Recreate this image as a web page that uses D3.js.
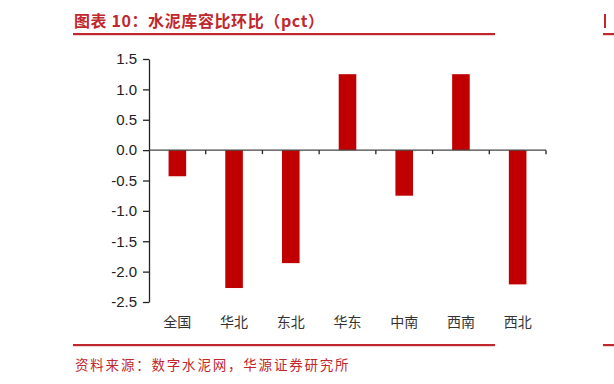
<!DOCTYPE html>
<html>
<head>
<meta charset="utf-8">
<script src="https://cdn.jsdelivr.net/npm/d3@7"></script>
<style>
body { margin: 0; background: #fff; }
svg { display: block; }
</style>
</head>
<body>
<div id="chart"></div>
<script>
var categories = ["全国", "华北", "东北", "华东", "中南", "西南", "西北"];
var values = [-0.43, -2.27, -1.86, 1.25, -0.75, 1.25, -2.21];
var yTicks = [1.5, 1.0, 0.5, 0.0, -0.5, -1.0, -1.5, -2.0, -2.5];

function drawChart() {
    var w = 614, h = 384;
    var red = "#c0282d";

    var svg = d3.select("#chart").append("svg")
        .attr("width", w)
        .attr("height", h);

    // title and frame lines
    svg.append("text")
        .attr("x", 74).attr("y", 27)
        .attr("fill", red)
        .attr("font-family", "Noto Sans CJK SC")
        .attr("font-weight", "bold")
        .attr("font-size", 16)
        .attr("letter-spacing", 0.6)
        .text("图表 10：水泥库容比环比（pct）");

    svg.append("rect").attr("x", 73).attr("y", 33).attr("width", 422).attr("height", 2.2).attr("fill", red);
    svg.append("rect").attr("x", 73).attr("y", 344).attr("width", 422).attr("height", 2.2).attr("fill", red);
    // edge of the neighbouring panel
    svg.append("rect").attr("x", 603).attr("y", 33).attr("width", 11).attr("height", 2.2).attr("fill", red);
    svg.append("rect").attr("x", 603).attr("y", 344).attr("width", 11).attr("height", 2.2).attr("fill", red);
    svg.append("rect").attr("x", 604).attr("y", 14).attr("width", 2).attr("height", 14).attr("fill", red);

    svg.append("text")
        .attr("x", 75).attr("y", 370)
        .attr("fill", red)
        .attr("font-family", "Noto Sans CJK SC")
        .attr("font-size", 13.5)
        .attr("letter-spacing", 1.8)
        .text("资料来源：数字水泥网，华源证券研究所");

    // plot
    var pLeft = 149, pRight = 546, pTop = 59, pBottom = 302;

    var x = d3.scaleBand().domain(categories).range([pLeft, pRight]).paddingInner(0).paddingOuter(0);
    var y = d3.scaleLinear().domain([1.5, -2.5]).range([pTop, pBottom]);

    svg.selectAll("rect.bar")
        .data(values)
        .enter()
        .append("rect")
        .attr("class", "bar")
        .attr("x", function (d, i) { return x(categories[i]) + x.bandwidth() * 0.345; })
        .attr("width", x.bandwidth() * 0.31)
        .attr("y", function (d) { return y(Math.max(0, d)); })
        .attr("height", function (d) { return Math.abs(y(d) - y(0)); })
        .attr("fill", "#c00000");

    var yAxis = d3.axisLeft(y).tickValues(yTicks).tickSize(6).tickSizeOuter(0);
    var gy = svg.append("g")
        .attr("transform", "translate(" + pLeft + ",0)")
        .call(yAxis);
    gy.selectAll("text")
        .attr("font-family", "Liberation Sans, Arial")
        .attr("font-size", 15)
        .attr("fill", "#222")
        .attr("dx", "-3")
        .text(function (d) { return d3.format(".1f")(d).replace("−", "-"); });
    gy.selectAll("line, path").attr("stroke", "#222").attr("stroke-width", 1.3);

    // zero line with ticks at category boundaries
    var boundaries = categories.map(function (c) { return x(c) + x.bandwidth(); });
    svg.append("line")
        .attr("x1", pLeft).attr("x2", pRight)
        .attr("y1", y(0)).attr("y2", y(0))
        .attr("stroke", "#444").attr("stroke-width", 1.3);
    svg.selectAll("line.xtick")
        .data(boundaries)
        .enter()
        .append("line")
        .attr("class", "xtick")
        .attr("x1", function (d) { return d; })
        .attr("x2", function (d) { return d; })
        .attr("y1", y(0))
        .attr("y2", y(0) + 4)
        .attr("stroke", "#222").attr("stroke-width", 1.3);

    svg.selectAll("text.cat")
        .data(categories)
        .enter()
        .append("text")
        .attr("class", "cat")
        .attr("x", function (d) { return x(d) + x.bandwidth() / 2; })
        .attr("y", 327)
        .attr("text-anchor", "middle")
        .attr("font-family", "Noto Sans CJK SC")
        .attr("font-size", 14)
        .attr("fill", "#333")
        .text(function (d) { return d; });
}

drawChart();
</script>
</body>
</html>
